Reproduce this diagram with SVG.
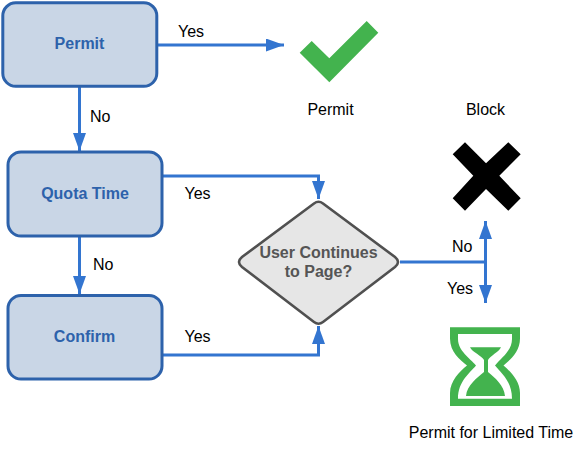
<svg xmlns="http://www.w3.org/2000/svg" width="583" height="450" viewBox="0 0 583 450">
<defs>
<marker id="a" markerUnits="userSpaceOnUse" markerWidth="18" markerHeight="14" refX="18" refY="6.500" orient="auto"><path d="M0 0L18 6.500L0 13Z" fill="#3375D0"/></marker>
</defs>
<style>
.n{fill:#C9D6E6;stroke:#2D62AB;stroke-width:3}
.nt{font:bold 16px "Liberation Sans",Arial,sans-serif;fill:#2D62AB;text-anchor:middle}
.dt{font:bold 16px "Liberation Sans",Arial,sans-serif;fill:#555;text-anchor:middle}
.l{font:16px "Liberation Sans",Arial,sans-serif;fill:#000}
.c{fill:none;stroke:#3375D0;stroke-width:3}
.g{fill:#43B34E}
</style>
<rect width="583" height="450" fill="#fff"/>
<g id="connectors">
<path class="c" marker-end="url(#a)" d="M157 45H284"/>
<path class="c" marker-end="url(#a)" d="M79.500 86V151"/>
<path class="c" marker-end="url(#a)" d="M79.500 236V294"/>
<path class="c" marker-end="url(#a)" d="M162 176H318.500V199"/>
<path class="c" marker-end="url(#a)" d="M162 355H318.500V326"/>
<path class="c" d="M400 262H485.500"/>
<path class="c" marker-end="url(#a)" d="M485.500 262V221"/>
<path class="c" marker-end="url(#a)" d="M485.500 262V303"/>
<text class="l" x="178" y="37">Yes</text>
<text class="l" x="90" y="122">No</text>
<text class="l" x="184.500" y="199">Yes</text>
<text class="l" x="93" y="270">No</text>
<text class="l" x="184.500" y="342">Yes</text>
<text class="l" x="452" y="252">No</text>
<text class="l" x="447" y="294">Yes</text>
</g>
<g id="permit-node"><rect class="n" x="2.800" y="2.800" width="154" height="83.500" rx="13"/><text class="nt" x="79.500" y="49">Permit</text></g>
<g id="quota-node"><rect class="n" x="8" y="152" width="154" height="84" rx="13"/><text class="nt" x="85" y="199">Quota Time</text></g>
<g id="confirm-node"><rect class="n" x="8" y="295.500" width="154" height="83.500" rx="13"/><text class="nt" x="84.500" y="342">Confirm</text></g>
<g id="decision-node"><path d="M314 203.500Q318.500 200 323 203.500L395 257Q401 262 395 267L323 322Q318.500 325.500 314 322L242 267Q236 262 242 257Z" fill="#E6E6E6" stroke="#505050" stroke-width="2.600"/><text class="dt" x="318.500" y="258">User Continues</text><text class="dt" x="318.500" y="277">to Page?</text></g>
<g id="permit-icon"><path class="g" d="M299.700 52.700L311.700 41L329.300 58.300L366.700 21L378.300 32.700L329.300 82.300Z"/><text class="l" x="330.500" y="115" text-anchor="middle">Permit</text></g>
<g id="block-icon"><path d="M465 142.300L486 163.300L508.300 142.300L520.700 154.300L499.300 175.700L520.700 198.300L508.300 210.700L486 189L465 210.700L452.700 198.300L473.300 175.700L452.700 154.300Z"/><text class="l" x="485.500" y="115" text-anchor="middle">Block</text></g>
<g id="timer-icon"><path class="g" fill-rule="evenodd" d="M450 327.300H520V338.500C520 352 510 360 503.500 365.500C510 371 520 381 520 393V406H450V393C450 381 460 371 467 365.500C460 360 450 352 450 338.500ZM458 334V339C458 351 470 358 476 365.500C470 373 458 381 458 398.700H512C512 381 501 373 495 365.500C501 358 512 351 512 339V334ZM470 347.300H501C499 352 490 356 488 360V372C495 378 504 385 505 396H466C467 385 477 378 484 372V360C482 356 472 352 470 347.300Z"/><text class="l" x="491" y="438" text-anchor="middle">Permit for Limited Time</text></g>
</svg>
